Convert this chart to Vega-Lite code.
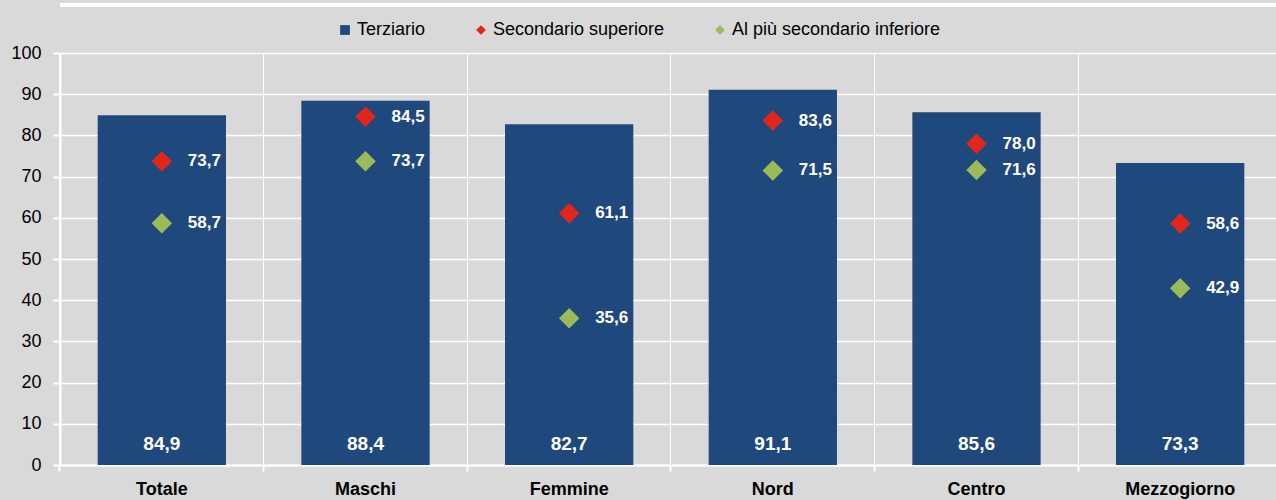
{
  "$schema": "https://vega.github.io/schema/vega-lite/v6.json",
  "autosize": {"type": "none"},
  "width": 1222,
  "height": 412,
  "padding": {"left": 60, "top": 53, "right": 0, "bottom": 35},
  "background": "#d9d9d9",
  "config": {
    "view": {"stroke": null, "fill": null},
    "font": "Liberation Sans, Arial",
    "locale": {"number": {"decimal": ",", "thousands": ".", "grouping": [3], "currency": ["", " €"]}}
  },
  "data": {
    "values": [
      {"cat": "Totale", "serie": "Terziario", "v": 84.9},
      {"cat": "Maschi", "serie": "Terziario", "v": 88.4},
      {"cat": "Femmine", "serie": "Terziario", "v": 82.7},
      {"cat": "Nord", "serie": "Terziario", "v": 91.1},
      {"cat": "Centro", "serie": "Terziario", "v": 85.6},
      {"cat": "Mezzogiorno", "serie": "Terziario", "v": 73.3},
      {"cat": "Totale", "serie": "Secondario superiore", "v": 73.7},
      {"cat": "Maschi", "serie": "Secondario superiore", "v": 84.5},
      {"cat": "Femmine", "serie": "Secondario superiore", "v": 61.1},
      {"cat": "Nord", "serie": "Secondario superiore", "v": 83.6},
      {"cat": "Centro", "serie": "Secondario superiore", "v": 78.0},
      {"cat": "Mezzogiorno", "serie": "Secondario superiore", "v": 58.6},
      {"cat": "Totale", "serie": "Al più secondario inferiore", "v": 58.7},
      {"cat": "Maschi", "serie": "Al più secondario inferiore", "v": 73.7},
      {"cat": "Femmine", "serie": "Al più secondario inferiore", "v": 35.6},
      {"cat": "Nord", "serie": "Al più secondario inferiore", "v": 71.5},
      {"cat": "Centro", "serie": "Al più secondario inferiore", "v": 71.6},
      {"cat": "Mezzogiorno", "serie": "Al più secondario inferiore", "v": 42.9}
    ]
  },
  "encoding": {
    "x": {
      "field": "cat",
      "type": "nominal",
      "sort": ["Totale", "Maschi", "Femmine", "Nord", "Centro", "Mezzogiorno"],
      "scale": {"paddingInner": 0.37, "paddingOuter": 0.185},
      "axis": {
        "title": null,
        "labelAngle": 0,
        "bandPosition": -0.2937,
        "grid": true,
        "gridColor": "#ffffff",
        "gridWidth": 1,
        "domainColor": "#ffffff",
        "domainWidth": 2,
        "tickColor": "#ffffff",
        "tickWidth": 2,
        "tickSize": 6,
        "labelFontSize": 18,
        "labelFontWeight": "bold",
        "labelColor": "#000000",
        "labelPadding": 9
      }
    }
  },
  "layer": [
    {
      "mark": {"type": "rule", "color": "#ffffff", "strokeWidth": 3, "clip": false},
      "encoding": {"x": null, "y": {"datum": 111.6, "type": "quantitative"}}
    },
    {
      "transform": [{"filter": "datum.serie == 'Terziario'"}],
      "mark": {"type": "bar"},
      "encoding": {
        "y": {
          "field": "v",
          "type": "quantitative",
          "scale": {"domain": [0, 100]},
          "axis": {
            "title": null,
            "values": [0, 10, 20, 30, 40, 50, 60, 70, 80, 90, 100],
            "grid": true,
            "gridColor": "#ffffff",
            "gridWidth": 1.5,
            "domainColor": "#ffffff",
            "domainWidth": 2,
            "tickColor": "#ffffff",
            "tickWidth": 2,
            "tickSize": 7,
            "labelFontSize": 18,
            "labelColor": "#000000",
            "labelPadding": 12
          }
        },
        "color": {
          "field": "serie",
          "type": "nominal",
          "scale": {
            "domain": ["Terziario", "Secondario superiore", "Al più secondario inferiore"],
            "range": ["#1f487c", "#e3261c", "#9bbb59"]
          },
          "legend": {
            "title": null,
            "orient": "none",
            "direction": "horizontal",
            "legendX": 276,
            "legendY": -32,
            "labelFontSize": 18,
            "labelColor": "#000000",
            "labelOffset": 3,
            "labelLimit": 400,
            "symbolSize": 95,
            "columnPadding": 46,
            "padding": 0
          }
        }
      }
    },
    {
      "transform": [{"filter": "datum.serie != 'Terziario'"}],
      "mark": {"type": "point", "filled": true, "opacity": 1, "size": 420, "strokeWidth": 0},
      "encoding": {
        "y": {"field": "v", "type": "quantitative"},
        "color": {"field": "serie", "type": "nominal"},
        "shape": {
          "field": "serie",
          "type": "nominal",
          "scale": {
            "domain": ["Terziario", "Secondario superiore", "Al più secondario inferiore"],
            "range": ["square", "diamond", "diamond"]
          }
        }
      }
    },
    {
      "transform": [{"filter": "datum.serie != 'Terziario'"}],
      "mark": {"type": "text", "align": "left", "baseline": "middle", "dx": 26, "fontSize": 17, "fontWeight": "bold", "color": "#ffffff"},
      "encoding": {
        "y": {"field": "v", "type": "quantitative"},
        "text": {"field": "v", "type": "quantitative", "format": ".1f"}
      }
    },
    {
      "transform": [{"filter": "datum.serie == 'Terziario'"}],
      "mark": {"type": "text", "align": "center", "baseline": "middle", "dy": -21, "fontSize": 19, "fontWeight": "bold", "color": "#ffffff"},
      "encoding": {
        "y": {"datum": 0, "type": "quantitative"},
        "text": {"field": "v", "type": "quantitative", "format": ".1f"}
      }
    }
  ]
}
